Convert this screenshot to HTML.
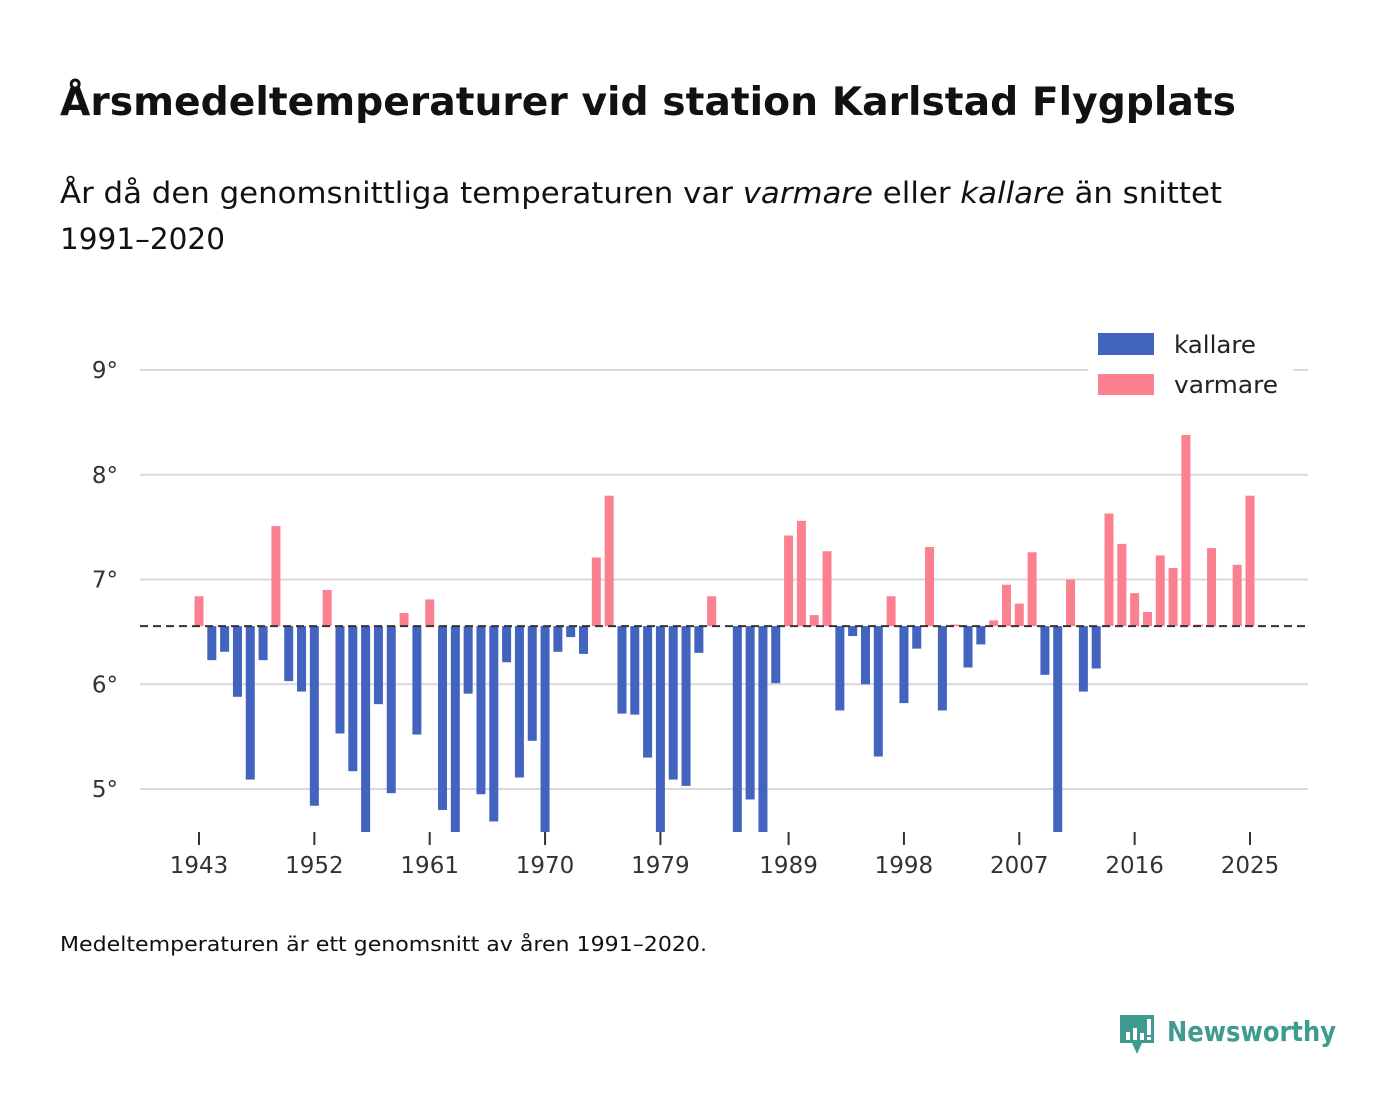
<!DOCTYPE html>
<html><head><meta charset="utf-8"><style>
body{margin:0;background:#fff;width:1400px;height:1116px;overflow:hidden;font-family:"DejaVu Sans","Liberation Sans",sans-serif;}
svg text{font-family:"DejaVu Sans","Liberation Sans",sans-serif;}
</style></head><body>
<svg id="chart" width="1400" height="1116">
<text x="60" y="115" font-size="39" font-weight="bold" fill="#111" textLength="1176" lengthAdjust="spacingAndGlyphs">Årsmedeltemperaturer vid station Karlstad Flygplats</text>
<text x="60" y="203" font-size="29" fill="#111" textLength="1162" lengthAdjust="spacingAndGlyphs">År då den genomsnittliga temperaturen var <tspan font-style="italic">varmare</tspan> eller <tspan font-style="italic">kallare</tspan> än snittet</text>
<text x="60" y="249" font-size="29" fill="#111" textLength="165" lengthAdjust="spacingAndGlyphs">1991–2020</text>
<g id="grid"></g>
<g id="bars"></g>
<g id="xaxis"></g>
<line id="avgline" x1="140" x2="1308" stroke="#333" stroke-width="2" stroke-dasharray="8,5"/>
<rect x="1088" y="325" width="205" height="80" fill="#fff"/>
<rect x="1098" y="333" width="56" height="22" fill="#4263be"/>
<text x="1174" y="353" font-size="24" fill="#222" textLength="82" lengthAdjust="spacingAndGlyphs">kallare</text>
<rect x="1098" y="374" width="56" height="21" fill="#fc8190"/>
<text x="1174" y="393" font-size="24" fill="#222" textLength="104" lengthAdjust="spacingAndGlyphs">varmare</text>
<text x="60" y="951" font-size="20" fill="#111" textLength="647" lengthAdjust="spacingAndGlyphs">Medeltemperaturen är ett genomsnitt av åren 1991–2020.</text>
<g>
<path d="M1120 1015 h34 v28 h-12 l-5 11 l-5 -11 h-12 z" fill="#3f9a92"/>
<rect x="1126" y="1032" width="4" height="8" fill="#fff"/><rect x="1133" y="1028" width="4" height="12" fill="#fff"/><rect x="1140" y="1033" width="4" height="7" fill="#fff"/><rect x="1147" y="1019" width="4" height="16" fill="#fff"/><rect x="1147" y="1037" width="4" height="3" fill="#fff"/>
<text x="1167" y="1041" font-size="28" font-weight="bold" fill="#3f9a92" textLength="169" lengthAdjust="spacingAndGlyphs" font-family="Liberation Sans">Newsworthy</text>
</g>
</svg>
<script>
const years=[];for(let y=1943;y<=2025;y++)years.push(y);
const temps=[6.84,6.23,6.31,5.88,5.09,6.23,7.51,6.03,5.93,4.84,6.90,5.53,5.17,4.5,5.81,4.96,6.68,5.52,6.81,4.80,4.5,5.91,4.95,4.69,6.21,5.11,5.46,4.5,6.31,6.45,6.29,7.21,7.80,5.72,5.71,5.30,4.5,5.09,5.03,6.30,6.84,null,4.5,4.90,4.5,6.01,7.42,7.56,6.66,7.27,5.75,6.46,6.00,5.31,6.84,5.82,6.34,7.31,5.75,6.57,6.16,6.38,6.61,6.95,6.77,7.26,6.09,4.5,7.00,5.93,6.15,7.63,7.34,6.87,6.69,7.23,7.11,8.38,6.57,7.30,null,7.14,7.80];
const average=6.555;
const yTicks=[5,6,7,8,9];
const xTicks=[1943,1952,1961,1970,1979,1989,1998,2007,2016,2025];
const NS="http://www.w3.org/2000/svg";
const xs=y=>199+(y-1943)*12.817;
const ys=v=>370+(9-v)*104.75;
const plotBottom=832;
function mk(t,a,p){const e=document.createElementNS(NS,t);for(const k in a)e.setAttribute(k,a[k]);p.appendChild(e);return e;}
const grid=document.getElementById('grid');
yTicks.forEach(v=>{
 const l=mk('line',{x1:140,x2:1308,y1:ys(v),y2:ys(v),stroke:'#d9d9d9','stroke-width':2},grid);
 
 
 const t=mk('text',{x:118,y:ys(v)+8,'font-size':23,fill:'#333','text-anchor':'end'},grid);
 t.textContent=v+'°';
 
 
});
const bars=document.getElementById('bars');
years.forEach((yr,i)=>{
 const v=temps[i];if(v==null)return;
 const y0=ys(average);let y1=Math.min(ys(v),plotBottom);
 const top=Math.min(y0,y1),h=Math.abs(y1-y0);
 const r=mk('rect',{x:xs(yr)-4.5,y:top,width:9,height:h,fill:v>=average?'#fc8190':'#4263be'},bars);
 
 
});
const xa=document.getElementById('xaxis');
xTicks.forEach(yr=>{
 const l=mk('line',{x1:xs(yr),x2:xs(yr),y1:832,y2:845,stroke:'#333','stroke-width':2},xa);
 
 
 const t=mk('text',{x:xs(yr),y:873,'font-size':23,fill:'#333','text-anchor':'middle'},xa);
 t.textContent=yr;
 
 
});
const al=document.getElementById('avgline');al.setAttribute('y1',ys(average));al.setAttribute('y2',ys(average));
</script>
</body></html>
